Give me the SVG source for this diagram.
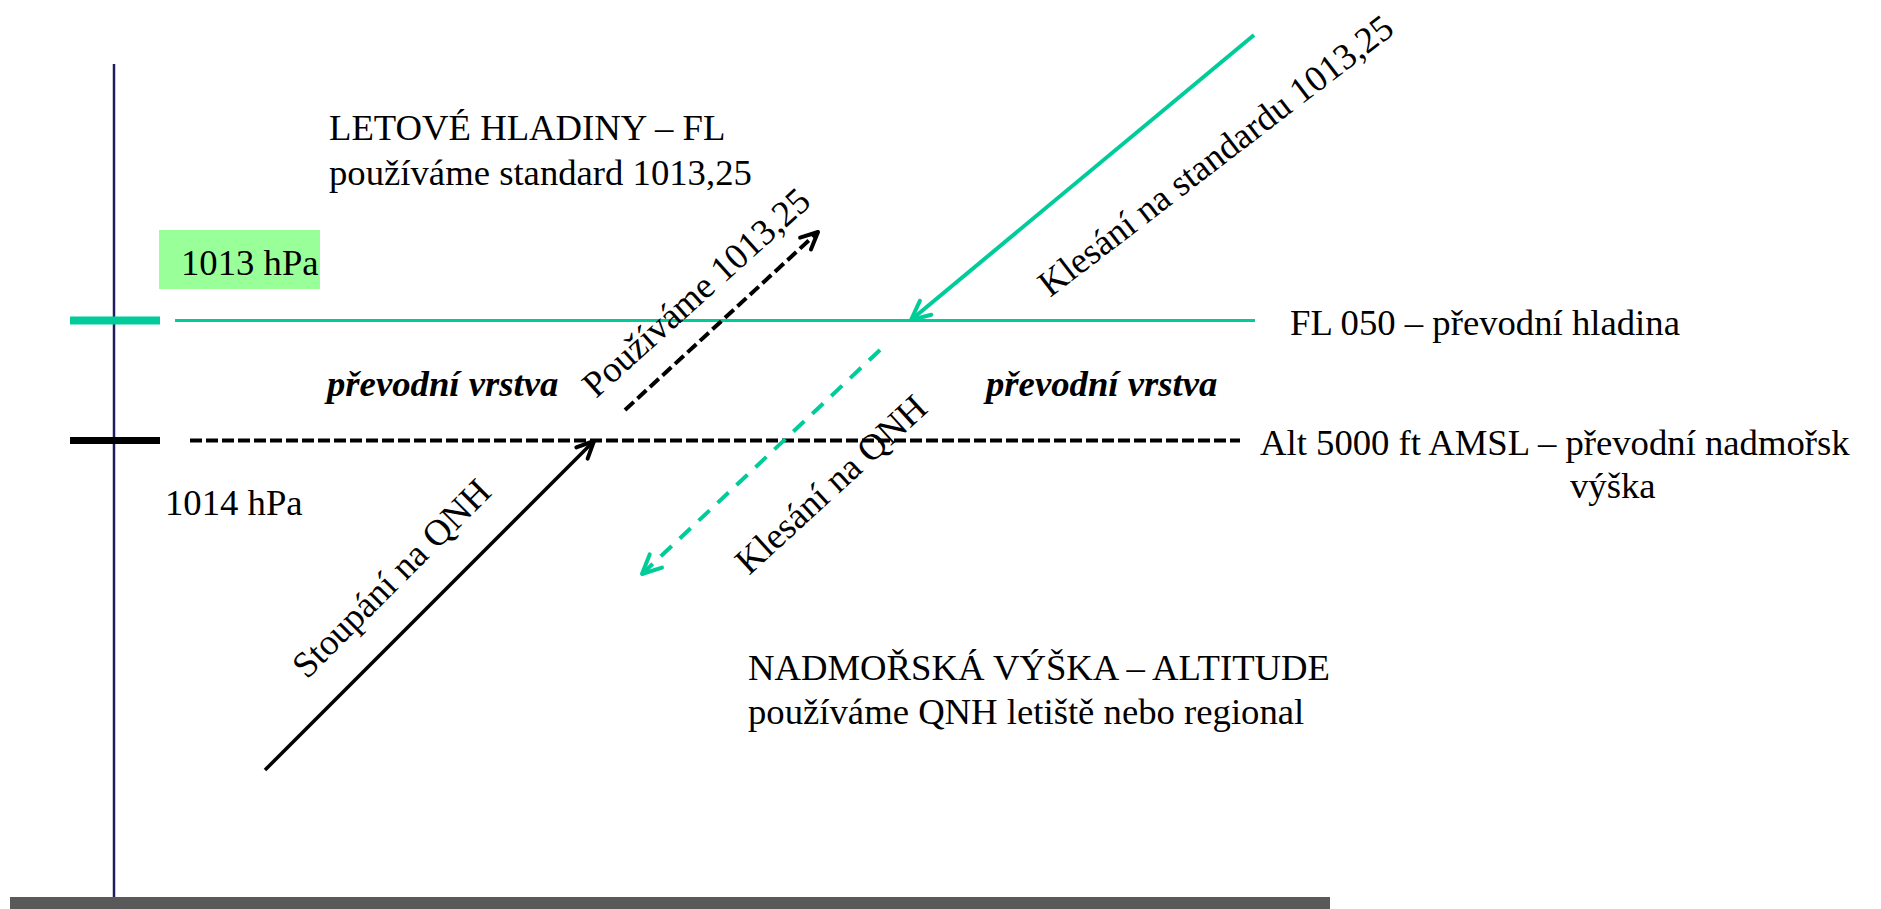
<svg xmlns="http://www.w3.org/2000/svg" width="1881" height="909" viewBox="0 0 1881 909">
<style>
text{font-family:"Liberation Serif","Times New Roman",serif;font-size:36.7px;fill:#000}
.bi{font-weight:bold;font-style:italic}
.g{stroke:#00CC99;fill:none}
.k{stroke:#000;fill:none}
.ah{stroke-width:4;stroke-linecap:round;stroke-linejoin:round;fill:none}
</style>
<defs>
<marker id="ag" markerUnits="userSpaceOnUse" markerWidth="40" markerHeight="40" refX="0" refY="0" orient="auto" overflow="visible">
<path class="ah" d="M-19,-9 L0,0 L-19,9" stroke="#00CC99"/>
</marker>
<marker id="ak" markerUnits="userSpaceOnUse" markerWidth="40" markerHeight="40" refX="0" refY="0" orient="auto" overflow="visible">
<path class="ah" d="M-17,-8 L0,0 L-17,8" stroke="#000"/>
</marker>
</defs>
<rect width="1881" height="909" fill="#fff"/>
<g id="axis">
<line x1="114" y1="64" x2="114" y2="898" stroke="#1F1F5F" stroke-width="2.5"/>
<rect x="10" y="897" width="1320" height="12" fill="#595959"/>
</g>
<g id="fl050">
<line x1="70" y1="320.5" x2="160" y2="320.5" class="g" stroke-width="8"/>
<line x1="175" y1="320.5" x2="1255" y2="320.5" class="g" stroke-width="3"/>
<text x="1290" y="335">FL 050 – převodní hladina</text>
</g>
<g id="alt5000">
<line x1="70" y1="440.5" x2="160" y2="440.5" class="k" stroke-width="7"/>
<line x1="190" y1="440.5" x2="1240" y2="440.5" class="k" stroke-width="4" stroke-dasharray="12 4"/>
<text x="1260" y="455">Alt 5000 ft AMSL – převodní nadmořsk</text>
<text x="1570" y="498">výška</text>
</g>
<g id="label1013">
<rect x="159" y="230" width="161" height="59" fill="#99FF99"/>
<text x="181" y="275">1013 hPa</text>
</g>
<g id="label1014">
<text x="165" y="515">1014 hPa</text>
</g>
<g id="letove">
<text x="329" y="140">LETOVÉ HLADINY – FL</text>
<text x="329" y="185">používáme standard 1013,25</text>
</g>
<g id="vrstva">
<text class="bi" x="327" y="396">převodní vrstva</text>
<text class="bi" x="986" y="396">převodní vrstva</text>
</g>
<g id="nadmorska">
<text x="748" y="680">NADMOŘSKÁ VÝŠKA – ALTITUDE</text>
<text x="748" y="724">používáme QNH letiště nebo regional</text>
</g>
<g id="connectors">
<line x1="1254" y1="35" x2="911" y2="320" class="g" stroke-width="4" marker-end="url(#ag)"/>
<line x1="625" y1="410" x2="818" y2="232" class="k" stroke-width="4" stroke-dasharray="12 5" marker-end="url(#ak)"/>
<line x1="265" y1="770" x2="594" y2="441" class="k" stroke-width="3.5" marker-end="url(#ak)"/>
<line x1="880" y1="350" x2="642" y2="574" class="g" stroke-width="4" stroke-dasharray="15 11" marker-end="url(#ag)"/>
</g>
<g id="connector-labels">
<text transform="translate(1050,298) rotate(-37.5)">Klesání na standardu 1013,25</text>
<text transform="translate(596,399) rotate(-42)">Používáme 1013,25</text>
<text transform="translate(307,680) rotate(-45)">Stoupání na QNH</text>
<text transform="translate(749,576) rotate(-42.5)">Klesání na QNH</text>
</g>
</svg>
